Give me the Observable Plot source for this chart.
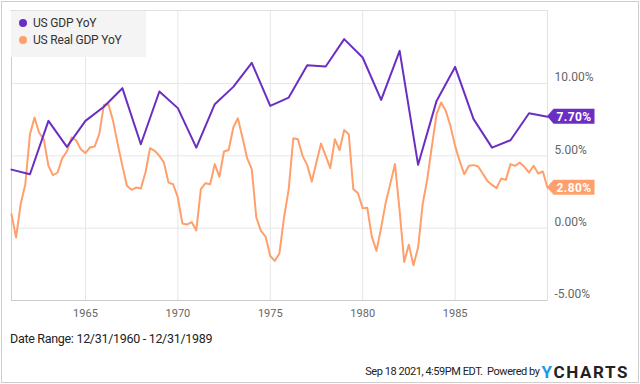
<!DOCTYPE html>
<html><head><meta charset="utf-8">
<script src="https://cdn.jsdelivr.net/npm/d3@7"></script>
<script src="https://cdn.jsdelivr.net/npm/@observablehq/plot@0.6"></script>
<style>
html,body{margin:0;padding:0;background:#fff;}
body{width:640px;height:384px;position:relative;overflow:hidden;font-family:Roboto,"Noto Sans",sans-serif;}
#border{position:absolute;left:1px;top:1px;width:638px;height:382px;border:1px solid #cfcfcf;box-sizing:border-box;pointer-events:none;}
#chart{position:absolute;left:0;top:0;}
#legend{position:absolute;left:11px;top:11px;width:135px;height:46px;background:#f4f4f4;}
.li{position:absolute;left:8px;height:14px;line-height:14px;font-size:12px;color:#333;letter-spacing:-0.2px;white-space:nowrap;}
.li span{display:inline-block;width:8px;height:8px;border-radius:50%;margin-right:6px;vertical-align:0px;}
#range{position:absolute;left:10px;top:331px;font-size:12.5px;color:#222;letter-spacing:-0.3px;white-space:nowrap;}
#foot{position:absolute;right:11px;top:362px;height:18px;line-height:18px;white-space:nowrap;color:#222;}
#foot .t{font-size:11px;letter-spacing:-0.45px;vertical-align:middle;}
#foot .logo{font-size:17px;font-weight:bold;letter-spacing:1.6px;vertical-align:middle;margin-left:2px;}
#foot .y{color:#1a9be6;}
</style></head>
<body>
<div id="chart"></div>
<div id="legend"></div>
<div id="range"></div>
<div id="foot"></div>
<div id="border"></div>
<script>
// ---- data ----
const seriesNames = ["US GDP YoY", "US Real GDP YoY"];
const seriesColors = ["#6a2fc2", "#ffa06c"];
// annual nominal GDP YoY, year-end 1960 .. 1989
const gdpYears = [1960,1961,1962,1963,1964,1965,1966,1967,1968,1969,1970,1971,1972,1973,1974,1975,1976,1977,1978,1979,1980,1981,1982,1983,1984,1985,1986,1987,1988,1989];
const gdpValues = [4.05,3.73,7.42,5.62,7.42,8.4,9.68,5.8,9.45,8.3,5.57,8.57,9.77,11.43,8.46,9.03,11.27,11.18,13.07,11.8,8.87,12.26,4.38,8.8,11.15,7.54,5.57,6.08,7.95,7.70];
// quarterly real GDP YoY, 1960 Q4 .. 1989 Q4
const realStartYear = 1960, realStartQuarter = 4;
const realValues = [0.97,-0.65,1.66,3.04,6.5,7.65,6.6,6.15,4.31,3.66,3.85,4.84,5.3,6.27,6.08,5.46,5.19,5.58,5.64,6.5,8.53,8.57,7.42,5.81,4.31,2.93,2.65,2.81,2.74,3.85,5.53,5.35,5.0,4.54,3.15,3.04,2.12,0.32,0.25,0.42,-0.16,2.7,3.11,3.04,4.43,3.55,5.3,5.41,6.96,7.6,6.27,4.84,4.08,0.74,-0.19,-0.58,-1.92,-2.26,-1.75,0.74,2.7,6.22,6.15,5.0,4.36,3.22,4.54,5.85,5.0,4.15,6.15,5.39,6.78,6.5,2.7,2.42,1.37,1.42,-0.6,-1.57,0.04,1.77,3.08,4.43,1.2,-2.33,-1.15,-2.56,-1.34,1.66,3.39,5.69,7.88,8.69,8.11,7.07,5.69,4.65,3.73,4.31,4.36,4.26,3.78,3.27,2.99,2.77,3.43,3.34,4.43,4.31,4.54,4.24,3.85,4.31,3.78,3.92,2.80];
const xTickYears = [1965,1970,1975,1980,1985];
const yTicks = [-5,0,5,10];
const dateRangeText = "Date Range: 12/31/1960 - 12/31/1989";
const footText = "Sep 18 2021, 4:59PM EDT.  Powered by";

// ---- tables ----
const gdpData = gdpYears.map((y,i)=>({date:new Date(Date.UTC(y+1,0,0)), value:gdpValues[i]}));
const realData = realValues.map((v,i)=>({date:new Date(Date.UTC(realStartYear, realStartQuarter*3 + 3*i, 0)), value:v}));
const xTicks = xTickYears.map(y=>new Date(Date.UTC(y,0,1)));
const xDomain = [gdpData[0].date, gdpData[gdpData.length-1].date];

const plot = Plot.plot({
  width: 640, height: 310,
  marginTop: 10, marginBottom: 10, marginLeft: 11, marginRight: 93,
  style: {fontFamily: "Roboto, sans-serif", fontSize: "11px", color: "#666", background: "transparent", overflow: "visible"},
  x: {type: "utc", domain: xDomain, label: null},
  y: {domain: [-5, 15.05], label: null},
  marks: [
    Plot.gridX(xTicks, {stroke: "#e6e6e6", strokeOpacity: 1}),
    Plot.gridY(yTicks, {stroke: "#e6e6e6", strokeOpacity: 1}),
    Plot.frame({stroke: "#e2e2e2"}),
    Plot.ruleX([xDomain[0]], {stroke: "#cccccc"}),
    Plot.ruleY([-5], {stroke: "#cccccc"}),
    Plot.axisX(xTicks, {tickSize: 0, tickPadding: 9, tickFormat: d3.utcFormat("%Y"), fill: "#666", label: null}),
    Plot.axisY(yTicks, {anchor: "right", tickSize: 0, tickPadding: 7, dy: -6, fill: "#666", fontSize: 12, tickFormat: d => d.toFixed(2) + "%", label: null}),
    Plot.line(realData, {x: "date", y: "value", stroke: seriesColors[1], strokeWidth: 2}),
    Plot.line(gdpData, {x: "date", y: "value", stroke: seriesColors[0], strokeWidth: 2})
  ]
});
document.getElementById("chart").appendChild(plot);

// end-value tags positioned from the plot's scales
const sx = plot.scale("x"), sy = plot.scale("y");
const svg = d3.select(plot);
const tags = [[gdpData, seriesColors[0]], [realData, seriesColors[1]]];
tags.forEach(([data, color]) => {
  const last = data[data.length-1];
  const px = sx.apply(last.date), py = sy.apply(last.value);
  const g = svg.append("g");
  const h = 7.5, notch = 6.5, w = 41;
  g.append("path")
    .attr("d", `M${px},${py}L${px+notch},${py-h}H${px+notch+w}V${py+h}H${px+notch}Z`)
    .attr("fill", color);
  g.append("text")
    .attr("x", px + notch + w/2).attr("y", py).attr("dy", "0.36em")
    .attr("text-anchor", "middle").attr("fill", "#fff")
    .attr("font-family", "Roboto, sans-serif").attr("font-weight", "bold")
    .attr("font-size", 12).attr("letter-spacing", "0.4px")
    .text(last.value.toFixed(2) + "%");
});

// legend
const legend = document.getElementById("legend");
seriesNames.forEach((name, i) => {
  const d = document.createElement("div");
  d.className = "li";
  d.style.top = (5 + i*16.5) + "px";
  d.innerHTML = `<span style="background:${seriesColors[i]}"></span>${name}`;
  legend.appendChild(d);
});

document.getElementById("range").textContent = dateRangeText;
document.getElementById("foot").innerHTML = `<span class="t">${footText.replace("  "," &nbsp;")}</span><span class="logo"><span class="y">Y</span>CHARTS</span>`;
</script>
</body></html>
